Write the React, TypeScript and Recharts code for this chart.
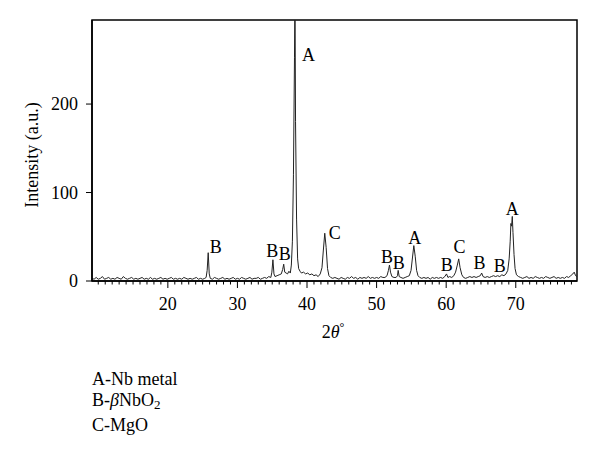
import { ComposedChart, Line, Scatter, XAxis, YAxis, ReferenceArea } from "recharts"

// diffraction angle (2θ, degrees) and measured intensity (a.u.)
const twoTheta = [
  9.1, 9.4, 9.7, 10.0, 10.3, 10.6, 10.9, 11.2, 11.5, 11.8, 12.1, 12.4, 12.7, 13.0, 13.3, 13.6, 13.9, 14.2, 14.5, 14.8,
  15.1, 15.4, 15.7, 16.0, 16.3, 16.6, 16.9, 17.2, 17.5, 17.8, 18.1, 18.4, 18.7, 19.0, 19.3, 19.6, 19.9, 20.2, 20.5, 20.8,
  21.1, 21.4, 21.7, 22.0, 22.3, 22.6, 22.9, 23.2, 23.5, 23.8, 24.1, 24.4, 24.7, 25.0, 25.3, 25.5, 25.65, 25.8, 25.95, 26.1,
  26.4, 26.7, 27.0, 27.3, 27.6, 27.9, 28.2, 28.5, 28.8, 29.1, 29.4, 29.7, 30.0, 30.3, 30.6, 30.9, 31.2, 31.5, 31.8, 32.1,
  32.4, 32.7, 33.0, 33.3, 33.6, 33.9, 34.2, 34.5, 34.8, 34.95, 35.1, 35.25, 35.4, 35.7, 36.0, 36.3, 36.5, 36.65, 36.8, 37.0,
  37.2, 37.4, 37.6, 37.75, 37.9, 38.05, 38.2, 38.27, 38.35, 38.5, 38.65, 38.8, 39.0, 39.2, 39.5, 39.8, 40.1, 40.4, 40.7, 41.0,
  41.3, 41.6, 41.9, 42.15, 42.35, 42.55, 42.75, 42.95, 43.15, 43.4, 43.7, 44.0, 44.3, 44.6, 44.9, 45.2, 45.5, 45.8, 46.1, 46.4,
  46.7, 47.0, 47.3, 47.6, 47.9, 48.2, 48.5, 48.8, 49.1, 49.4, 49.7, 50.0, 50.3, 50.6, 50.9, 51.2, 51.5, 51.7, 51.85, 52.0,
  52.2, 52.5, 52.8, 53.0, 53.1, 53.25, 53.5, 53.8, 54.1, 54.4, 54.7, 54.95, 55.15, 55.35, 55.55, 55.75, 55.95, 56.2, 56.5, 56.8,
  57.1, 57.4, 57.7, 58.0, 58.3, 58.6, 58.9, 59.2, 59.5, 59.8, 60.05, 60.25, 60.5, 60.8, 61.1, 61.35, 61.6, 61.8, 62.0, 62.25,
  62.5, 62.8, 63.1, 63.4, 63.7, 64.0, 64.3, 64.6, 64.9, 65.1, 65.3, 65.6, 65.9, 66.2, 66.5, 66.8, 67.1, 67.4, 67.7, 68.0,
  68.3, 68.6, 68.85, 69.05, 69.2, 69.3, 69.4, 69.5, 69.6, 69.75, 69.9, 70.1, 70.4, 70.7, 71.0, 71.3, 71.6, 71.9, 72.2, 72.5,
  72.8, 73.1, 73.4, 73.7, 74.0, 74.3, 74.6, 74.9, 75.2, 75.5, 75.8, 76.1, 76.4, 76.7, 77.0, 77.3, 77.6, 77.9, 78.2, 78.4,
  78.6, 78.8,
]
const intensity = [
  3, 2, 4, 2, 3, 5, 2, 3, 4, 2, 3, 2, 4, 3, 2, 5, 3, 2, 3, 4,
  2, 3, 2, 3, 4, 2, 3, 2, 4, 2, 3, 2, 3, 4, 2, 3, 2, 3, 4, 2,
  3, 2, 3, 2, 4, 3, 2, 3, 2, 3, 4, 2, 3, 2, 3, 4, 12, 32, 8, 3,
  2, 4, 3, 2, 3, 4, 2, 3, 2, 3, 4, 2, 3, 2, 4, 3, 2, 3, 4, 2,
  3, 3, 4, 2, 3, 4, 3, 5, 4, 10, 24, 8, 5, 6, 7, 8, 13, 19, 10, 9,
  8, 11, 9, 18, 45, 120, 253, 330, 180, 70, 25, 14, 11, 9, 10, 8, 9, 7, 8, 6,
  7, 5, 8, 15, 35, 54, 38, 14, 6, 4, 3, 4, 3, 2, 4, 3, 2, 4, 3, 5,
  3, 4, 2, 4, 3, 4, 3, 5, 3, 4, 3, 4, 3, 5, 4, 4, 6, 12, 18, 10,
  5, 4, 4, 6, 12, 5, 4, 3, 4, 5, 6, 12, 26, 40, 28, 12, 6, 4, 3, 4,
  3, 4, 2, 4, 3, 4, 3, 4, 3, 5, 8, 4, 5, 4, 6, 10, 18, 25, 15, 7,
  4, 3, 4, 5, 4, 5, 4, 5, 6, 9, 5, 4, 5, 4, 5, 6, 5, 6, 5, 7,
  6, 8, 12, 25, 45, 65, 62, 73, 55, 30, 14, 7, 5, 4, 3, 4, 5, 3, 4, 3,
  5, 4, 3, 4, 3, 5, 4, 3, 4, 5, 3, 4, 3, 4, 3, 5, 4, 6, 8, 10,
  6, 5,
]

// phase letters placed above the peaks
const peakPhase = ["B", "B", "B", "A", "C", "B", "B", "A", "B", "C", "B", "B", "A"]
const peakTwoTheta = [26.9, 35.0, 36.8, 40.2, 44.0, 51.5, 53.2, 55.5, 60.1, 61.9, 64.8, 67.7, 69.5]
const peakIntensity = [38, 34, 30, 255, 54, 27, 20, 49, 18, 38, 20, 17, 81]

const yTicks = [0, 100, 200]
const xMajor = [20, 30, 40, 50, 60, 70]
const xTicks = Array.from({ length: 69 }, (_, i) => 10 + i)

const spectrum = twoTheta.map((x, i) => ({ x, y: intensity[i] }))
const peaks = peakPhase.map((p, i) => ({ x: peakTwoTheta[i], y: peakIntensity[i], phase: p }))

const font = "'Liberation Serif', 'Times New Roman', serif"

function XTick({ x, y, payload }: any) {
  const major = xMajor.includes(payload.value)
  return (
    <g>
      <line x1={x} x2={x} y1={y} y2={y + (major ? 7 : 3.5)} stroke="#000" />
      {major && (
        <text x={x} y={y + 29} textAnchor="middle" fontSize={18} fontFamily={font} fill="#000">
          {payload.value}
        </text>
      )}
    </g>
  )
}

function YTick({ x, y, payload }: any) {
  return (
    <g>
      <line x1={x - 6} x2={x} y1={y} y2={y} stroke="#000" />
      <text x={x - 14} y={y + 6} textAnchor="end" fontSize={18} fontFamily={font} fill="#000">
        {payload.value}
      </text>
    </g>
  )
}

function PeakLabel({ cx, cy, payload }: any) {
  return (
    <text x={cx} y={cy + 6} textAnchor="middle" fontSize={18} fontFamily={font} fill="#000">
      {payload.phase}
    </text>
  )
}

export default function App() {
  return (
    <div style={{ position: "absolute", left: 0, top: 0, width: 600, height: 462, background: "#fff" }}>
      <ComposedChart width={600} height={350} margin={{ top: 20, right: 23, left: 0, bottom: 29 }}>
        <XAxis
          type="number"
          dataKey="x"
          domain={[9.1, 78.8]}
          ticks={xTicks}
          interval={0}
          allowDataOverflow
          tickSize={0}
          tickMargin={0}
          tick={<XTick />}
          axisLine={{ stroke: "#000", strokeWidth: 1.5 }}
          height={40}
          label={({ viewBox }: any) => (
            <text x={333} y={338} textAnchor="middle" fontSize={18} fontFamily={font} fill="#000">
              2<tspan fontStyle="italic">θ</tspan>
              <tspan fontSize={12} dy={-7}>°</tspan>
            </text>
          )}
        />
        <YAxis
          type="number"
          domain={[0, 295]}
          ticks={yTicks}
          allowDataOverflow
          width={92}
          tickSize={0}
          tickMargin={0}
          tick={<YTick />}
          axisLine={{ stroke: "#000", strokeWidth: 1.5 }}
          label={() => (
            <text
              x={32}
              y={155}
              transform="rotate(-90, 32, 155)"
              textAnchor="middle"
              dominantBaseline="central"
              fontSize={18}
              fontFamily={font}
              fill="#000"
            >
              Intensity (a.u.)
            </text>
          )}
        />
        <ReferenceArea x1={9.1} x2={78.8} y1={0} y2={295} fill="none" stroke="#000" strokeWidth={1.5} />
        <Line
          data={spectrum}
          dataKey="y"
          type="linear"
          stroke="#222"
          strokeWidth={1}
          dot={false}
          isAnimationActive={false}
        />
        <Scatter data={peaks} dataKey="y" shape={<PeakLabel />} isAnimationActive={false} />
      </ComposedChart>
      <div
        style={{
          position: "absolute",
          left: 92,
          top: 369,
          fontFamily: font,
          fontSize: 18,
          lineHeight: "20.5px",
          color: "#000",
        }}
      >
        <div>A-Nb metal</div>
        <div>
          B-<i>β</i>NbO<sub style={{ fontSize: 13, verticalAlign: "-3px" }}>2</sub>
        </div>
        <div>C-MgO</div>
      </div>
    </div>
  )
}
